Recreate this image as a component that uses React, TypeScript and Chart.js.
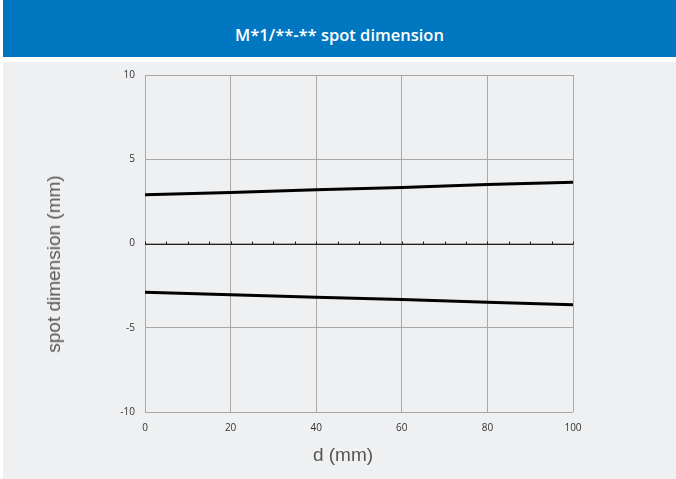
import React, { useEffect, useRef } from "react";
import { Chart, registerables } from "chart.js";

Chart.register(...registerables);

const distances = [0, 20, 40, 60, 80, 100];
const upperSpot = [2.89, 3.03, 3.19, 3.32, 3.5, 3.64];
const lowerSpot = [-2.89, -3.04, -3.19, -3.33, -3.49, -3.64];
const minorTicks = [0, 5, 10, 15, 20, 25, 30, 35, 40, 45, 50, 55, 60, 65, 70, 75, 80, 85, 90, 95, 100];

const TITLE = "M*1/**-** spot dimension";
const X_TITLE = "d (mm)";
const Y_TITLE = "spot dimension (mm)";

const zeroAxisPlugin = {
  id: "zeroAxis",
  afterDatasetsDraw(chart: any) {
    const { ctx, scales } = chart;
    const xs = scales.x;
    const ys = scales.y;
    const y0 = Math.round(ys.getPixelForValue(0)) + 0.5;
    ctx.save();
    ctx.strokeStyle = "#222";
    ctx.lineWidth = 1.2;
    ctx.beginPath();
    ctx.moveTo(xs.left, y0);
    ctx.lineTo(xs.right, y0);
    ctx.stroke();
    ctx.lineWidth = 1;
    minorTicks.forEach((v) => {
      const px = Math.round(xs.getPixelForValue(v)) + 0.5;
      ctx.beginPath();
      ctx.moveTo(px, y0);
      ctx.lineTo(px, y0 - 3);
      ctx.stroke();
    });
    ctx.restore();
  },
};

export default function App() {
  const canvasRef = useRef<HTMLCanvasElement | null>(null);

  useEffect(() => {
    if (!canvasRef.current) return;
    const chart = new Chart(canvasRef.current, {
      type: "line",
      data: {
        labels: distances,
        datasets: [
          {
            data: distances.map((d, i) => ({ x: d, y: upperSpot[i] })),
            borderColor: "#000",
            borderWidth: 3,
            pointRadius: 0,
            tension: 0,
          },
          {
            data: distances.map((d, i) => ({ x: d, y: lowerSpot[i] })),
            borderColor: "#000",
            borderWidth: 3,
            pointRadius: 0,
            tension: 0,
          },
        ],
      },
      options: {
        responsive: false,
        animation: false,
        layout: { padding: { top: 0, right: 103, left: 0, bottom: 0 } },
        plugins: { legend: { display: false }, tooltip: { enabled: false } },
        scales: {
          x: {
            type: "linear",
            min: 0,
            max: 100,
            ticks: {
              stepSize: 20,
              color: "#333",
              font: { family: "Open Sans", size: 10 },
              padding: 10,
              maxRotation: 0,
            },
            grid: { color: "#a8a8a8", lineWidth: 1, drawTicks: false },
            border: { display: false },
            afterFit: (scale: any) => {
              scale.height = 67;
            },
          },
          y: {
            min: -10,
            max: 10,
            ticks: {
              stepSize: 5,
              color: "#333",
              font: { family: "Open Sans", size: 10 },
              padding: 10,
            },
            grid: { color: "#a8a8a8", lineWidth: 1, drawTicks: false },
            border: { display: false },
            afterFit: (scale: any) => {
              scale.width = 145;
            },
          },
        },
      },
      plugins: [zeroAxisPlugin],
    });
    return () => chart.destroy();
  }, []);

  return (
    <div style={{ position: "absolute", left: 0, top: 0, width: 676, height: 479, background: "#fff", overflow: "hidden" }}>
      <div
        style={{
          position: "absolute",
          left: 3,
          top: 0,
          width: 673,
          height: 57,
          background: "#0077c0",
        }}
      >
        <span
          style={{
            position: "absolute",
            left: 0,
            right: 0,
            top: 25,
            lineHeight: "20px",
            textAlign: "center",
            color: "#fff",
            fontFamily: "Open Sans, Arial, sans-serif",
            fontWeight: 600,
            fontSize: 16.5,
          }}
        >
          {TITLE}
        </span>
      </div>
      <div style={{ position: "absolute", left: 3, top: 62, width: 673, height: 417, background: "#eff0f2" }} />
      <canvas ref={canvasRef} width={676} height={420} style={{ position: "absolute", left: 0, top: 59, width: 676, height: 420 }} />
      <div
        style={{
          position: "absolute",
          left: 343,
          top: 455,
          transform: "translate(-50%, -50%)",
          whiteSpace: "nowrap",
          fontFamily: "Liberation Sans, Arial, sans-serif",
          fontSize: 19,
          color: "#555",
        }}
      >
        {X_TITLE}
      </div>
      <div
        style={{
          position: "absolute",
          left: 54,
          top: 264,
          transform: "translate(-50%, -50%) rotate(-90deg)",
          whiteSpace: "nowrap",
          fontFamily: "Liberation Sans, Arial, sans-serif",
          fontSize: 19,
          color: "#555",
        }}
      >
        {Y_TITLE}
      </div>
    </div>
  );
}
